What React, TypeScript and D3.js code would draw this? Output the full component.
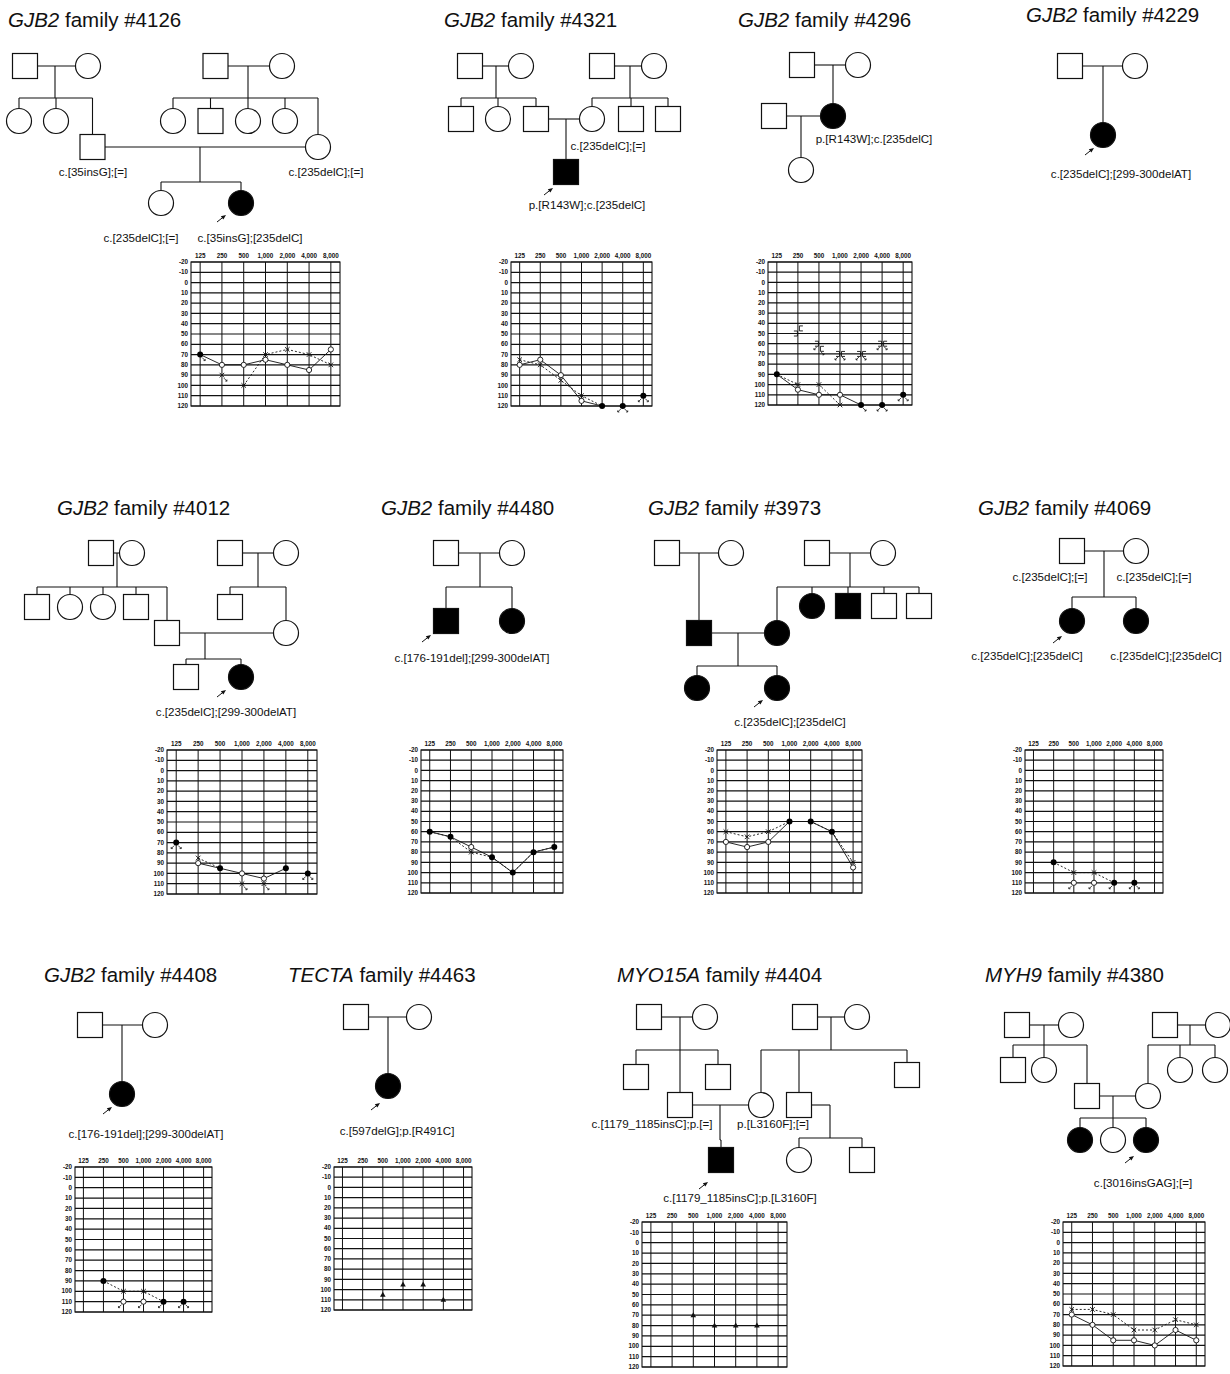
import React from "react";
import * as d3 from "d3";

// ---------- audiogram axes ----------
const FREQ_LABELS = ["125", "250", "500", "1,000", "2,000", "4,000", "8,000"];
const DB_LABELS = [-20, -10, 0, 10, 20, 30, 40, 50, 60, 70, 80, 90, 100, 110, 120];

// ---------- audiogram thresholds (dB HL), aligned with FREQ_LABELS ----------
const AG4126_RIGHT = [70, 80, 80, 75, 80, 85, 65];
const AG4126_LEFT = [70, 90, 100, 70, 65, 70, 80];
const AG4321_RIGHT = [80, 75, 90, 115, 120, 120, 110];
const AG4321_LEFT = [75, 80, 95, 110, 120, 120, 110];
const AG4296_RIGHT = [90, 105, 110, 110, 120, 120, 110];
const AG4296_LEFT = [90, 100, 100, 120, 120, 120, 110];
const AG4296_BONE_A = [null, 50, 60, 70, 70, 60, null];
const AG4296_BONE_B = [null, 45, 65, 70, 70, 60, null];
const AG4012_RIGHT = [70, 90, 95, 100, 105, 95, 100];
const AG4012_LEFT = [70, 85, 95, 110, 110, 95, 100];
const AG4480_RIGHT = [60, 65, 75, 85, 100, 80, 75];
const AG4480_LEFT = [60, 65, 80, 85, 100, 80, 75];
const AG3973_RIGHT = [70, 75, 70, 50, 50, 60, 95];
const AG3973_LEFT = [60, 65, 60, 50, 50, 60, 90];
const AG4069_RIGHT = [null, 90, 110, 110, 110, 110, null];
const AG4069_LEFT = [null, 90, 100, 100, 110, 110, null];
const AG4408_RIGHT = [null, 90, 110, 110, 110, 110, null];
const AG4408_LEFT = [null, 90, 100, 100, 110, 110, null];
const AG4463_TRI = [null, null, 105, 95, 95, 110, null];
const AG4404_TRI = [null, null, 70, 80, 80, 80, null];
const AG4380_RIGHT = [70, 80, 95, 95, 100, 85, 95];
const AG4380_LEFT = [65, 65, 70, 85, 85, 75, 80];

// no-response frequency indices
const NR4126_LEFT = [0, 1];
const NR4321 = [5, 6];
const NR4296_RIGHT = [5, 6];
const NR4296_LEFT = [4, 5, 6];
const NR4296_BONE = [2, 3, 4, 5];
const NR4012_RIGHT = [0, 6];
const NR4012_LEFT = [0, 3, 4, 6];
const NR4069_RIGHT = [2, 3, 4, 5];
const NR4069_LEFT = [5];

type Vals = (number | null)[];
type Aud = {
  x0: number; x1: number; y0: number; y1: number;
  right?: Vals; left?: Vals; nrRight?: number[]; nrLeft?: number[];
  tri?: Vals; boneA?: Vals; boneB?: Vals; nrBone?: number[];
};

const AUDIOGRAMS: Aud[] = [
  { x0: 191, x1: 340, y0: 262, y1: 406, right: AG4126_RIGHT, left: AG4126_LEFT, nrLeft: NR4126_LEFT },
  { x0: 511, x1: 652, y0: 262, y1: 406, right: AG4321_RIGHT, left: AG4321_LEFT, nrRight: NR4321, nrLeft: NR4321 },
  { x0: 768, x1: 912, y0: 262, y1: 405, right: AG4296_RIGHT, left: AG4296_LEFT, nrRight: NR4296_RIGHT, nrLeft: NR4296_LEFT, boneA: AG4296_BONE_A, boneB: AG4296_BONE_B, nrBone: NR4296_BONE },
  { x0: 167, x1: 317, y0: 750, y1: 894, right: AG4012_RIGHT, left: AG4012_LEFT, nrRight: NR4012_RIGHT, nrLeft: NR4012_LEFT },
  { x0: 421, x1: 563, y0: 750, y1: 893, right: AG4480_RIGHT, left: AG4480_LEFT },
  { x0: 717, x1: 862, y0: 750, y1: 893, right: AG3973_RIGHT, left: AG3973_LEFT },
  { x0: 1025, x1: 1163, y0: 750, y1: 893, right: AG4069_RIGHT, left: AG4069_LEFT, nrRight: NR4069_RIGHT, nrLeft: NR4069_LEFT },
  { x0: 75, x1: 212, y0: 1167, y1: 1312, right: AG4408_RIGHT, left: AG4408_LEFT, nrRight: NR4069_RIGHT, nrLeft: NR4069_LEFT },
  { x0: 334, x1: 472, y0: 1167, y1: 1310, tri: AG4463_TRI },
  { x0: 642, x1: 787, y0: 1222, y1: 1367, tri: AG4404_TRI },
  { x0: 1063, x1: 1205, y0: 1222, y1: 1366, right: AG4380_RIGHT, left: AG4380_LEFT },
];

// ---------- pedigrees ----------
type Person = { id: string; sex: "m" | "f"; x: number; y: number; aff?: boolean };
type Union = { a?: string; b?: string; drop: number; sib: number; kids: string[] };
type Lab = { t: string; x: number; y: number };
type Ped = {
  gene: string; fam: string; tx: number; ty: number;
  people: Person[]; unions: Union[]; labels: Lab[]; arrow: [number, number];
};

const PEDIGREES: Ped[] = [
  {
    gene: "GJB2", fam: "#4126", tx: 8, ty: 27,
    people: [
      { id: "a", sex: "m", x: 25, y: 66 }, { id: "b", sex: "f", x: 88, y: 66 },
      { id: "c", sex: "f", x: 19, y: 121 }, { id: "d", sex: "f", x: 56, y: 121 },
      { id: "e", sex: "m", x: 92.5, y: 147 },
      { id: "g", sex: "m", x: 215.5, y: 66 }, { id: "h", sex: "f", x: 282, y: 66 },
      { id: "i", sex: "f", x: 173, y: 121 }, { id: "j", sex: "m", x: 210.5, y: 121 },
      { id: "k", sex: "f", x: 248, y: 121 }, { id: "l", sex: "f", x: 285, y: 121 },
      { id: "m", sex: "f", x: 318, y: 147 },
      { id: "n", sex: "f", x: 161, y: 203 }, { id: "o", sex: "f", x: 241, y: 203, aff: true },
    ],
    unions: [
      { a: "a", b: "b", drop: 55, sib: 98, kids: ["c", "d", "e"] },
      { a: "g", b: "h", drop: 248, sib: 98, kids: ["i", "j", "k", "l", "m"] },
      { a: "e", b: "m", drop: 200, sib: 182, kids: ["n", "o"] },
    ],
    labels: [
      { t: "c.[35insG];[=]", x: 93, y: 176 }, { t: "c.[235delC];[=]", x: 326, y: 176 },
      { t: "c.[235delC];[=]", x: 141, y: 242 }, { t: "c.[35insG];[235delC]", x: 250, y: 242 },
    ],
    arrow: [226, 215],
  },
  {
    gene: "GJB2", fam: "#4321", tx: 444, ty: 27,
    people: [
      { id: "a", sex: "m", x: 470, y: 66 }, { id: "b", sex: "f", x: 521, y: 66 },
      { id: "c", sex: "m", x: 461, y: 119 }, { id: "d", sex: "f", x: 498, y: 119 },
      { id: "e", sex: "m", x: 536, y: 119 },
      { id: "g", sex: "m", x: 602, y: 66 }, { id: "h", sex: "f", x: 654, y: 66 },
      { id: "i", sex: "f", x: 592, y: 119 }, { id: "j", sex: "m", x: 631, y: 119 },
      { id: "k", sex: "m", x: 668, y: 119 },
      { id: "l", sex: "m", x: 566, y: 172, aff: true },
    ],
    unions: [
      { a: "a", b: "b", drop: 496, sib: 98, kids: ["c", "d", "e"] },
      { a: "g", b: "h", drop: 630, sib: 98, kids: ["i", "j", "k"] },
      { a: "e", b: "i", drop: 566, sib: 150, kids: ["l"] },
    ],
    labels: [
      { t: "c.[235delC];[=]", x: 608, y: 150 }, { t: "p.[R143W];c.[235delC]", x: 587, y: 209 },
    ],
    arrow: [553, 188],
  },
  {
    gene: "GJB2", fam: "#4296", tx: 738, ty: 27,
    people: [
      { id: "a", sex: "m", x: 802, y: 65 }, { id: "b", sex: "f", x: 858, y: 65 },
      { id: "c", sex: "f", x: 833, y: 116, aff: true }, { id: "d", sex: "m", x: 774, y: 116 },
      { id: "e", sex: "f", x: 801, y: 170 },
    ],
    unions: [
      { a: "a", b: "b", drop: 833, sib: 90, kids: ["c"] },
      { a: "d", b: "c", drop: 801, sib: 145, kids: ["e"] },
    ],
    labels: [{ t: "p.[R143W];c.[235delC]", x: 874, y: 143 }],
    arrow: [-100, -100],
  },
  {
    gene: "GJB2", fam: "#4229", tx: 1026, ty: 22,
    people: [
      { id: "a", sex: "m", x: 1070, y: 66 }, { id: "b", sex: "f", x: 1135, y: 66 },
      { id: "c", sex: "f", x: 1103, y: 135, aff: true },
    ],
    unions: [{ a: "a", b: "b", drop: 1103, sib: 100, kids: ["c"] }],
    labels: [{ t: "c.[235delC];[299-300delAT]", x: 1121, y: 178 }],
    arrow: [1094, 148],
  },
  {
    gene: "GJB2", fam: "#4012", tx: 57, ty: 515,
    people: [
      { id: "a", sex: "m", x: 101, y: 553 }, { id: "b", sex: "f", x: 132, y: 553 },
      { id: "c", sex: "m", x: 37, y: 607 }, { id: "d", sex: "f", x: 70, y: 607 },
      { id: "e", sex: "f", x: 103, y: 607 }, { id: "f", sex: "m", x: 136, y: 607 },
      { id: "g", sex: "m", x: 167, y: 633 },
      { id: "h", sex: "m", x: 230, y: 553 }, { id: "i", sex: "f", x: 286, y: 553 },
      { id: "j", sex: "m", x: 230, y: 607 }, { id: "k", sex: "f", x: 286, y: 633 },
      { id: "l", sex: "m", x: 186, y: 677 }, { id: "m", sex: "f", x: 241, y: 677, aff: true },
    ],
    unions: [
      { a: "a", b: "b", drop: 117, sib: 587, kids: ["c", "d", "e", "f", "g"] },
      { a: "h", b: "i", drop: 258, sib: 587, kids: ["j", "k"] },
      { a: "g", b: "k", drop: 205, sib: 659, kids: ["l", "m"] },
    ],
    labels: [{ t: "c.[235delC];[299-300delAT]", x: 226, y: 716 }],
    arrow: [226, 690],
  },
  {
    gene: "GJB2", fam: "#4480", tx: 381, ty: 515,
    people: [
      { id: "a", sex: "m", x: 446, y: 553 }, { id: "b", sex: "f", x: 512, y: 553 },
      { id: "c", sex: "m", x: 446, y: 621, aff: true }, { id: "d", sex: "f", x: 512, y: 621, aff: true },
    ],
    unions: [{ a: "a", b: "b", drop: 480, sib: 587, kids: ["c", "d"] }],
    labels: [{ t: "c.[176-191del];[299-300delAT]", x: 472, y: 662 }],
    arrow: [431, 635],
  },
  {
    gene: "GJB2", fam: "#3973", tx: 648, ty: 515,
    people: [
      { id: "a", sex: "m", x: 667, y: 553 }, { id: "b", sex: "f", x: 731, y: 553 },
      { id: "c", sex: "m", x: 699, y: 633, aff: true },
      { id: "d", sex: "m", x: 817, y: 553 }, { id: "e", sex: "f", x: 883, y: 553 },
      { id: "f", sex: "f", x: 777, y: 633, aff: true }, { id: "g", sex: "f", x: 812, y: 606, aff: true },
      { id: "h", sex: "m", x: 848, y: 606, aff: true }, { id: "i", sex: "m", x: 884, y: 606 },
      { id: "j", sex: "m", x: 919, y: 606 },
      { id: "k", sex: "f", x: 697, y: 688, aff: true }, { id: "l", sex: "f", x: 777, y: 688, aff: true },
    ],
    unions: [
      { a: "a", b: "b", drop: 699, sib: 590, kids: ["c"] },
      { a: "d", b: "e", drop: 850, sib: 587, kids: ["f", "g", "h", "i", "j"] },
      { a: "c", b: "f", drop: 738, sib: 666, kids: ["k", "l"] },
    ],
    labels: [{ t: "c.[235delC];[235delC]", x: 790, y: 726 }],
    arrow: [763, 700],
  },
  {
    gene: "GJB2", fam: "#4069", tx: 978, ty: 515,
    people: [
      { id: "a", sex: "m", x: 1072, y: 551 }, { id: "b", sex: "f", x: 1136, y: 551 },
      { id: "c", sex: "f", x: 1072, y: 621, aff: true }, { id: "d", sex: "f", x: 1136, y: 621, aff: true },
    ],
    unions: [{ a: "a", b: "b", drop: 1104, sib: 597, kids: ["c", "d"] }],
    labels: [
      { t: "c.[235delC];[=]", x: 1050, y: 581 }, { t: "c.[235delC];[=]", x: 1154, y: 581 },
      { t: "c.[235delC];[235delC]", x: 1027, y: 660 }, { t: "c.[235delC];[235delC]", x: 1166, y: 660 },
    ],
    arrow: [1062, 636],
  },
  {
    gene: "GJB2", fam: "#4408", tx: 44, ty: 982,
    people: [
      { id: "a", sex: "m", x: 90, y: 1025 }, { id: "b", sex: "f", x: 155, y: 1025 },
      { id: "c", sex: "f", x: 122, y: 1094, aff: true },
    ],
    unions: [{ a: "a", b: "b", drop: 122, sib: 1060, kids: ["c"] }],
    labels: [{ t: "c.[176-191del];[299-300delAT]", x: 146, y: 1138 }],
    arrow: [112, 1107],
  },
  {
    gene: "TECTA", fam: "#4463", tx: 288, ty: 982,
    people: [
      { id: "a", sex: "m", x: 356, y: 1017 }, { id: "b", sex: "f", x: 419, y: 1017 },
      { id: "c", sex: "f", x: 388, y: 1086, aff: true },
    ],
    unions: [{ a: "a", b: "b", drop: 388, sib: 1050, kids: ["c"] }],
    labels: [{ t: "c.[597delG];p.[R491C]", x: 397, y: 1135 }],
    arrow: [380, 1103],
  },
  {
    gene: "MYO15A", fam: "#4404", tx: 617, ty: 982,
    people: [
      { id: "a", sex: "m", x: 649, y: 1017 }, { id: "b", sex: "f", x: 705, y: 1017 },
      { id: "c", sex: "m", x: 636, y: 1077 }, { id: "d", sex: "m", x: 680, y: 1105 },
      { id: "e", sex: "m", x: 718, y: 1077 },
      { id: "g", sex: "m", x: 805, y: 1017 }, { id: "h", sex: "f", x: 857, y: 1017 },
      { id: "i", sex: "f", x: 761, y: 1105 }, { id: "j", sex: "m", x: 799, y: 1105 },
      { id: "k", sex: "m", x: 907, y: 1075 },
      { id: "l", sex: "m", x: 721, y: 1160, aff: true },
      { id: "n", sex: "f", x: 799, y: 1160 }, { id: "o", sex: "m", x: 862, y: 1160 },
    ],
    unions: [
      { a: "a", b: "b", drop: 680, sib: 1050, kids: ["c", "d", "e"] },
      { a: "g", b: "h", drop: 831, sib: 1050, kids: ["i", "j", "k"] },
      { a: "d", b: "i", drop: 720, sib: 1140, kids: ["l"] },
      { a: "j", drop: 830, sib: 1138, kids: ["n", "o"] },
    ],
    labels: [
      { t: "c.[1179_1185insC];p.[=]", x: 652, y: 1128 }, { t: "p.[L3160F];[=]", x: 773, y: 1128 },
      { t: "c.[1179_1185insC];p.[L3160F]", x: 740, y: 1202 },
    ],
    arrow: [708, 1182],
  },
  {
    gene: "MYH9", fam: "#4380", tx: 985, ty: 982,
    people: [
      { id: "a", sex: "m", x: 1017, y: 1025 }, { id: "b", sex: "f", x: 1071, y: 1025 },
      { id: "c", sex: "m", x: 1013, y: 1070 }, { id: "d", sex: "f", x: 1044, y: 1070 },
      { id: "e", sex: "m", x: 1087, y: 1096 },
      { id: "g", sex: "m", x: 1165, y: 1025 }, { id: "h", sex: "f", x: 1218, y: 1025 },
      { id: "i", sex: "f", x: 1148, y: 1096 }, { id: "j", sex: "f", x: 1180, y: 1070 },
      { id: "k", sex: "f", x: 1215, y: 1070 },
      { id: "l", sex: "f", x: 1080, y: 1140, aff: true }, { id: "m", sex: "f", x: 1113, y: 1140 },
      { id: "n", sex: "f", x: 1146, y: 1140, aff: true },
    ],
    unions: [
      { a: "a", b: "b", drop: 1044, sib: 1045, kids: ["c", "d", "e"] },
      { a: "g", b: "h", drop: 1190, sib: 1045, kids: ["i", "j", "k"] },
      { a: "e", b: "i", drop: 1113, sib: 1118, kids: ["l", "m", "n"] },
    ],
    labels: [{ t: "c.[3016insGAG];[=]", x: 1143, y: 1187 }],
    arrow: [1134, 1156],
  },
];

const HALF = 12.5;
const LABEL_FONT = "'Liberation Sans', Arial, sans-serif";

function Pedigree({ p }: { p: Ped }) {
  const byId = new Map(p.people.map((d) => [d.id, d]));
  const lines: [number, number, number, number][] = [];
  p.unions.forEach((u) => {
    const A = u.a ? byId.get(u.a) : undefined;
    const B = u.b ? byId.get(u.b) : undefined;
    let topY = 0;
    if (A && B) {
      const [L, R] = A.x < B.x ? [A, B] : [B, A];
      lines.push([L.x + HALF, L.y, R.x - HALF, R.y]);
      topY = L.y;
    } else if (A) {
      lines.push([A.x + HALF, A.y, u.drop, A.y]);
      topY = A.y;
    }
    const kids = u.kids.map((k) => byId.get(k)!);
    if (kids.length === 1 && Math.abs(kids[0].x - u.drop) < 0.5) {
      lines.push([u.drop, topY, u.drop, kids[0].y - HALF]);
      return;
    }
    lines.push([u.drop, topY, u.drop, u.sib]);
    const xs = kids.map((k) => k.x).concat([u.drop]);
    lines.push([d3.min(xs)!, u.sib, d3.max(xs)!, u.sib]);
    kids.forEach((k) => lines.push([k.x, u.sib, k.x, k.y - HALF]));
  });
  const [ax, ay] = p.arrow;
  return (
    <g>
      <text x={p.tx} y={p.ty} fontFamily={LABEL_FONT} fontSize={20.5} fill="#111">
        <tspan fontStyle="italic">{p.gene}</tspan>
        <tspan> family {p.fam}</tspan>
      </text>
      {lines.map((l, i) => (
        <line key={i} x1={l[0]} y1={l[1]} x2={l[2]} y2={l[3]} stroke="#111" strokeWidth={1.1} />
      ))}
      {p.people.map((d) =>
        d.sex === "m" ? (
          <rect key={d.id} x={d.x - HALF} y={d.y - HALF} width={HALF * 2} height={HALF * 2}
            fill={d.aff ? "#000" : "#fff"} stroke="#111" strokeWidth={1.2} />
        ) : (
          <circle key={d.id} cx={d.x} cy={d.y} r={HALF}
            fill={d.aff ? "#000" : "#fff"} stroke="#111" strokeWidth={1.2} />
        )
      )}
      {p.labels.map((l, i) => (
        <text key={i} x={l.x} y={l.y} textAnchor="middle" fontFamily={LABEL_FONT} fontSize={11.6} fill="#111">{l.t}</text>
      ))}
      {ax > 0 && (
        <g>
          <line x1={ax - 9} y1={ay + 7} x2={ax - 2} y2={ay + 1.5} stroke="#111" strokeWidth={1} />
          <path d={`M${ax},${ay} L${ax - 5.2},${ay + 1.2} L${ax - 2.6},${ay + 4.4} Z`} fill="#111" />
        </g>
      )}
    </g>
  );
}

function Audiogram({ a }: { a: Aud }) {
  const x = d3.scalePoint<string>().domain(FREQ_LABELS).range([a.x0, a.x1]).padding(0.42);
  const y = d3.scaleLinear().domain([-20, 120]).range([a.y0, a.y1]);
  const fx = (i: number) => x(FREQ_LABELS[i])!;
  const mkLine = (vals: Vals, nr: number[] = []) =>
    d3.line<number | null>()
      .defined((v, i) => v != null && !nr.includes(i))
      .x((_, i) => fx(i))
      .y((v) => y(v as number))(vals) || "";
  const marks: React.ReactNode[] = [];
  FREQ_LABELS.forEach((_, i) => {
    const cx = fx(i);
    const r = a.right ? a.right[i] : null;
    const l = a.left ? a.left[i] : null;
    if (r != null && l != null && r === l) {
      marks.push(<circle key={"f" + i} cx={cx} cy={y(r)} r={3} fill="#000" />);
    } else {
      if (r != null) marks.push(<circle key={"r" + i} cx={cx} cy={y(r)} r={2.6} fill="#fff" stroke="#111" strokeWidth={0.9} />);
      if (l != null) {
        const cy = y(l);
        marks.push(<path key={"l" + i} d={`M${cx - 2.3},${cy - 2.3}L${cx + 2.3},${cy + 2.3}M${cx - 2.3},${cy + 2.3}L${cx + 2.3},${cy - 2.3}`} stroke="#111" strokeWidth={0.9} />);
      }
    }
    const nrMark = (v: number, side: number, k: string) => {
      const cy = y(v);
      marks.push(
        <path key={k} d={`M${cx + side * 2},${cy + 3}L${cx + side * 5},${cy + 6}M${cx + side * 5},${cy + 6}l${-side * 1.6},0M${cx + side * 5},${cy + 6}l0,-1.6`}
          stroke="#111" strokeWidth={0.8} fill="none" />
      );
    };
    if (r != null && a.nrRight && a.nrRight.includes(i)) nrMark(r, -1, "nr" + i);
    if (l != null && a.nrLeft && a.nrLeft.includes(i)) nrMark(l, 1, "nl" + i);
    if (a.tri && a.tri[i] != null) {
      const cy = y(a.tri[i] as number);
      marks.push(<path key={"t" + i} d={`M${cx},${cy - 3}L${cx + 2.8},${cy + 2}L${cx - 2.8},${cy + 2}Z`} fill="#111" />);
    }
    if (a.boneA && a.boneA[i] != null) {
      const cy = y(a.boneA[i] as number);
      marks.push(<path key={"ba" + i} d={`M${cx - 4},${cy - 2.5}h3.5v5h-3.5`} stroke="#111" strokeWidth={0.9} fill="none" />);
      if (a.nrBone && a.nrBone.includes(i)) nrMark(a.boneA[i] as number, -1, "nb" + i);
    }
    if (a.boneB && a.boneB[i] != null) {
      const cy = y(a.boneB[i] as number);
      marks.push(<path key={"bb" + i} d={`M${cx + 5},${cy - 2.5}h-3.5v5h3.5`} stroke="#111" strokeWidth={0.9} fill="none" />);
      if (a.nrBone && a.nrBone.includes(i)) nrMark(a.boneB[i] as number, 1, "nbb" + i);
    }
  });
  return (
    <g>
      {DB_LABELS.map((v) => (
        <g key={"h" + v}>
          <line x1={a.x0} x2={a.x1} y1={y(v)} y2={y(v)} stroke="#111" strokeWidth={1.2} />
          <text x={a.x0 - 3} y={y(v)} dy="0.35em" textAnchor="end" fontFamily={LABEL_FONT} fontWeight="bold" fontSize={6.3} fill="#111">{v}</text>
        </g>
      ))}
      {FREQ_LABELS.map((f) => (
        <g key={"v" + f}>
          <line x1={x(f)} x2={x(f)} y1={a.y0} y2={a.y1} stroke="#111" strokeWidth={1} />
          <text x={x(f)} y={a.y0 - 4} textAnchor="middle" fontFamily={LABEL_FONT} fontWeight="bold" fontSize={6.3} fill="#111">{f}</text>
        </g>
      ))}
      <rect x={a.x0} y={a.y0} width={a.x1 - a.x0} height={a.y1 - a.y0} fill="none" stroke="#111" strokeWidth={1.1} />
      {a.right && <path d={mkLine(a.right, a.nrRight)} fill="none" stroke="#111" strokeWidth={0.9} />}
      {a.left && <path d={mkLine(a.left, a.nrLeft)} fill="none" stroke="#111" strokeWidth={0.9} strokeDasharray="2,2" />}
      {marks}
    </g>
  );
}

export default function App() {
  return (
    <svg width={1230} height={1374} viewBox="0 0 1230 1374"
      style={{ position: "absolute", left: 0, top: 0, background: "#fff" }}>
      <rect x={0} y={0} width={1230} height={1374} fill="#fff" />
      {PEDIGREES.map((p) => <Pedigree key={p.fam} p={p} />)}
      {AUDIOGRAMS.map((a, i) => <Audiogram key={i} a={a} />)}
    </svg>
  );
}
